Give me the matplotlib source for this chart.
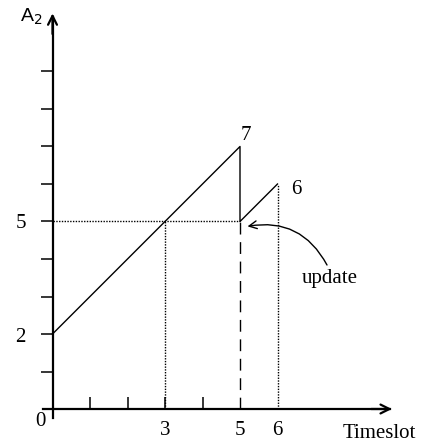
import matplotlib
matplotlib.use("Agg")
import matplotlib.pyplot as plt

# data
curve_x = [0, 5, 5, 6]
curve_y = [2, 7, 5, 6]
y_ticks = [1, 2, 3, 4, 5, 6, 7, 8, 9]
x_ticks = [1, 2, 3, 4]
x_labels = ["0", "3", "5", "6"]
x_label_pos = [(-0.33, -0.33), (3, -0.56), (5, -0.56), (6, -0.56)]
y_labels = ["2", "5"]
y_label_pos = [(-0.85, 1.9), (-0.85, 4.96)]
peak_labels = ["7", "6"]
peak_label_pos = [(5.15, 7.29), (6.49, 5.85)]

W, H = 421, 448
unit = 37.5
x0px, y0px = 52.5, 409.0

fig = plt.figure(figsize=(W / 100, H / 100), dpi=100)
ax = fig.add_axes([0, 0, 1, 1])
ax.set_xlim(-x0px / unit, (W - x0px) / unit)
ax.set_ylim(-(H - y0px) / unit, y0px / unit)
for s in ["top", "right"]:
    ax.spines[s].set_visible(False)
ax.patch.set_alpha(0)
ax.spines["left"].set_position(("data", 0))
ax.spines["bottom"].set_position(("data", 0))
ax.spines["left"].set_bounds(-0.24, 10.45)
ax.spines["bottom"].set_bounds(-0.25, 9.0)
ax.spines["left"].set_linewidth(1.6)
ax.spines["bottom"].set_linewidth(1.6)
ax.set_yticks(y_ticks)
ax.set_yticklabels([])
ax.set_xticks(x_ticks)
ax.set_xticklabels([])
ax.tick_params(axis="y", direction="out", length=9, width=1.1)
ax.tick_params(axis="x", direction="in", length=9, width=1.1)

# axis arrowheads
ax.annotate("", xy=(0, 10.55), xytext=(0, 10.0),
            arrowprops=dict(arrowstyle="->", lw=1.6, color="black",
                            mutation_scale=16, shrinkA=0, shrinkB=0))
ax.annotate("", xy=(9.05, 0), xytext=(8.5, 0),
            arrowprops=dict(arrowstyle="->", lw=1.6, color="black",
                            mutation_scale=16, shrinkA=0, shrinkB=0))

# main curve
ax.plot(curve_x, curve_y, color="black", lw=1.0)

# guide lines
ax.plot([0, 5], [5, 5], color="black", lw=1.0, ls=(0, (1, 1)))
ax.plot([3, 3], [0, 5], color="black", lw=1.0, ls=(0, (1, 1)))
ax.plot([6, 6], [0, 6], color="black", lw=1.0, ls=(0, (1, 1)))
ax.plot([5, 5], [0, 5], color="black", lw=1.0, ls=(0, (8.5, 5.5)))

serif = "Liberation Serif"
for t, (xx, yy) in zip(x_labels, x_label_pos):
    ax.text(xx, yy, t, ha="center", va="center", fontsize=15, family=serif)
for t, (xx, yy) in zip(y_labels, y_label_pos):
    ax.text(xx, yy, t, ha="center", va="center", fontsize=15, family=serif)
for t, (xx, yy) in zip(peak_labels, peak_label_pos):
    ax.text(xx, yy, t, ha="center", va="center", fontsize=15, family=serif)
ax.text(8.71, -0.64, "Timeslot", ha="center", va="center", fontsize=15, family=serif)
ax.text(-0.57, 10.45, "A$_2$", ha="center", va="center", fontsize=14, family="Liberation Sans")

ax.text(7.4, 3.47, "update", ha="center", va="center", fontsize=15, family=serif)
ax.annotate("", xy=(5.2, 4.87), xytext=(7.32, 3.84),
            arrowprops=dict(arrowstyle="->", lw=1.0, color="black",
                            connectionstyle="arc3,rad=0.36",
                            mutation_scale=14, shrinkA=0, shrinkB=0))

fig.savefig("out.png", dpi=100)
